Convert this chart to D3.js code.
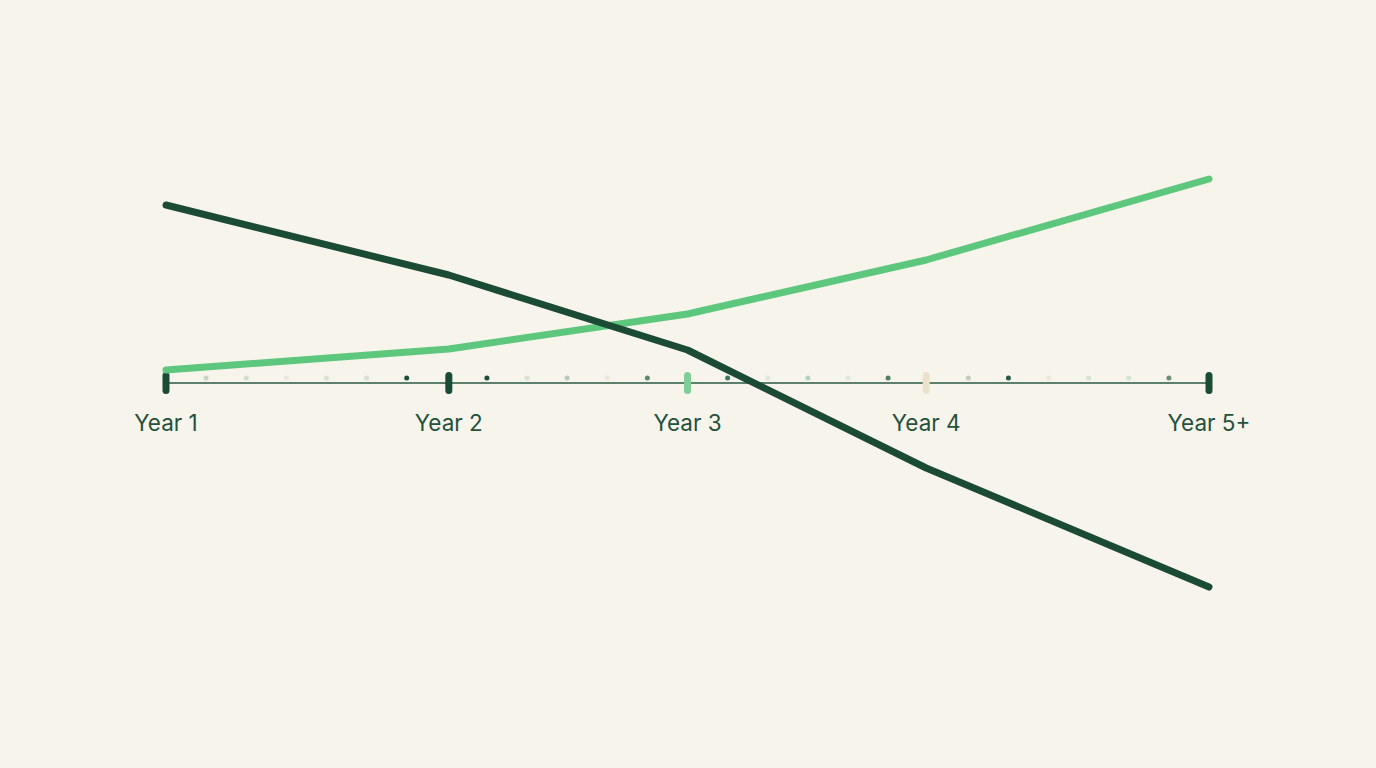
<!DOCTYPE html>
<html>
<head>
<meta charset="utf-8">
<script src="https://cdn.jsdelivr.net/npm/d3@7"></script>
<style>
  html, body { margin: 0; padding: 0; background: #f7f4ec; }
  svg { display: block; }
</style>
</head>
<body>
<svg width="1376" height="768"></svg>
<script>
// data
var years = ['Year 1', 'Year 2', 'Year 3', 'Year 4', 'Year 5+'];
var yearSteps = [0, 7.05, 13, 18.95, 26];    // position of each year on the dotted track
var risingValues = [54, 58.2, 65.2, 76, 92.2];
var fallingValues = [87, 73, 58, 34.4, 10.6];
var tickColors = ['#1c4b35', '#1c4b35', '#7fcf95', '#ebe2c9', '#1c4b35'];
var dotSteps = [1, 2, 3, 4, 5, 6, 8, 9, 10, 11, 12, 14, 15, 16, 17, 18, 20, 21, 22, 23, 24, 25];
var dotColors = ['#c6d6c4', '#cfdccd', '#ece7d6', '#d8e1d3', '#d3e0d2', '#1e4e36',
                 '#1e4e36', '#d6e3d2', '#b5cdb6', '#ece6d4', '#5d8a6f',
                 '#3f7c58', '#dde8dc', '#b3d2b8', '#e0e8dc', '#4f7f63',
                 '#c9cbbe', '#2a5a41', '#eee7d9', '#d4e4d3', '#d3e3d1', '#6a9078'];

var svg = d3.select('svg');
var g = svg.append('g');

var x = d3.scaleLinear().domain([0, 26]).range([166, 1209]);
var y = d3.scaleLinear().domain([0, 100]).range([640, 140]);
var axisY = 383;

// baseline
g.append('line')
    .attr('x1', x(0)).attr('x2', x(26))
    .attr('y1', axisY).attr('y2', axisY)
    .attr('stroke', '#2a5a42')
    .attr('stroke-width', 1.6);

// little dots along the track
g.selectAll('.dot')
    .data(dotSteps)
    .enter().append('circle')
    .attr('class', 'dot')
    .attr('cx', function(d) { return x(d); })
    .attr('cy', axisY - 5)
    .attr('r', 2.5)
    .attr('fill', function(d, i) { return dotColors[i]; });

// year ticks
g.selectAll('.tick')
    .data(yearSteps)
    .enter().append('line')
    .attr('class', 'tick')
    .attr('x1', function(d) { return x(d); })
    .attr('x2', function(d) { return x(d); })
    .attr('y1', axisY - 7.5)
    .attr('y2', axisY + 7.5)
    .attr('stroke', function(d, i) { return tickColors[i]; })
    .attr('stroke-width', 7)
    .attr('stroke-linecap', 'round');

// year labels
g.selectAll('.label')
    .data(years)
    .enter().append('text')
    .attr('class', 'label')
    .attr('x', function(d, i) { return x(yearSteps[i]); })
    .attr('y', 431)
    .attr('text-anchor', 'middle')
    .attr('font-family', 'Inter, "Noto Sans", sans-serif')
    .attr('font-size', 22.5)
    .attr('fill', '#24513c')
    .text(function(d) { return d; });

var line = d3.line()
    .x(function(d, i) { return x(yearSteps[i]); })
    .y(function(d) { return y(d); });

g.append('path')
    .datum(risingValues)
    .attr('d', line)
    .attr('fill', 'none')
    .attr('stroke', '#5cc77d')
    .attr('stroke-width', 7)
    .attr('stroke-linecap', 'round')
    .attr('stroke-linejoin', 'round');

g.append('path')
    .datum(fallingValues)
    .attr('d', line)
    .attr('fill', 'none')
    .attr('stroke', '#1c4b35')
    .attr('stroke-width', 7)
    .attr('stroke-linecap', 'round')
    .attr('stroke-linejoin', 'round');
</script>
</body>
</html>
